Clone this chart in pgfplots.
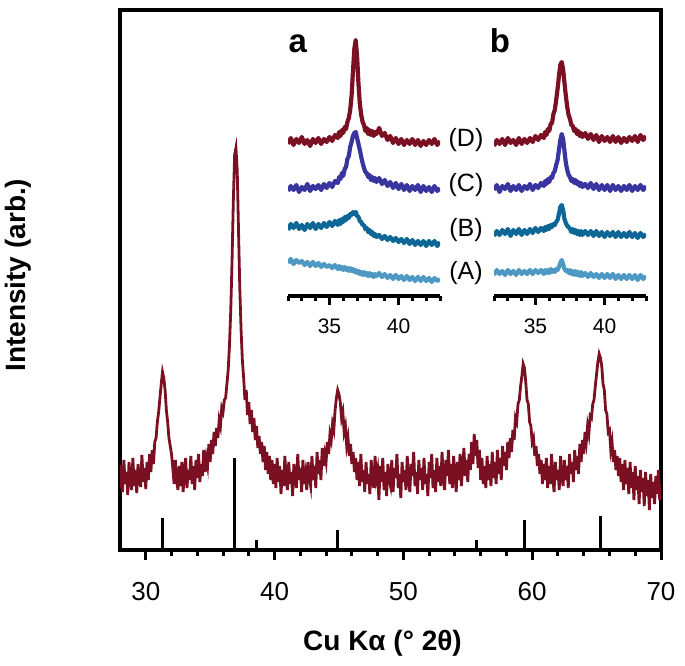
\documentclass[border=0pt]{standalone}
\usepackage{pgfplots}
\pgfplotsset{compat=1.18}
\usepackage{pgfplotstable}
\usepackage{fontspec}
\setmainfont{Liberation Sans}

\definecolor{cD}{RGB}{122,16,34}
\definecolor{cC}{RGB}{56,52,160}
\definecolor{cB}{RGB}{12,102,150}
\definecolor{cA}{RGB}{78,152,196}

% insets: x, then (D) (C) (B) (A) of panel a, then of panel b
\pgfplotstableread{
x    Da  Ca  Ba  Aa  Db  Cb  Bb  Ab
32.0 152 105 66 33 150 106 60 21
32.2 158 110 72 37 156 111 65 26
32.4 151 106 68 32 152 104 61 22
32.6 157 111 73 36 157 110 66 25
32.8 153 104 67 33 151 107 62 21
33.0 159 109 71 35 158 112 67 26
33.2 152 106 66 31 153 105 60 22
33.4 156 112 72 34 156 110 66 25
33.6 150 105 68 30 151 106 62 21
33.8 157 110 73 34 158 111 67 26
34.0 153 107 67 30 152 105 61 22
34.2 158 111 72 33 157 110 66 25
34.4 152 106 68 29 153 107 62 22
34.6 157 112 73 32 158 112 67 26
34.8 154 108 69 29 154 106 63 22
35.0 159 113 74 31 160 111 68 26
35.2 155 109 70 28 156 108 64 23
35.4 161 115 75 31 161 113 68 26
35.6 158 113 71 27 158 110 65 22
35.7 164 119 76 30 164 115 69 26
35.8 160 117 72 27 161 112 66 23
35.9 166 123 77 29 167 117 70 26
36.0 163 120 74 26 165 114 67 23
36.1 169 127 79 29 172 119 71 27
36.2 167 129 76 26 173 118 69 24
36.3 174 137 80 28 182 123 72 26
36.4 178 140 78 25 186 125 71 24
36.5 186 149 82 28 196 131 74 27
36.6 200 154 81 25 207 136 76 26
36.7 224 160 84 27 220 146 82 29
36.8 247 163 82 24 231 156 89 33
36.9 256 164 84 26 234 162 91 36
37.0 240 158 80 23 227 157 86 32
37.1 212 152 79 25 213 145 77 27
37.2 192 146 75 22 200 133 73 25
37.3 181 139 74 24 189 126 70 26
37.4 174 133 71 21 181 121 69 23
37.5 171 128 71 24 177 119 67 26
37.6 165 124 67 21 171 115 64 22
37.7 168 123 68 23 170 117 67 25
37.8 162 119 64 20 165 113 63 21
37.9 166 121 66 23 167 116 66 25
38.0 161 116 62 20 162 112 62 21
38.1 165 119 64 22 165 114 65 24
38.2 160 115 60 19 160 110 61 20
38.3 164 118 62 22 163 113 65 24
38.4 162 114 59 20 159 109 61 20
38.6 168 118 61 23 163 112 65 23
38.8 160 112 57 19 157 108 61 19
39.0 163 116 60 22 162 113 65 23
39.2 156 110 56 18 156 107 60 19
39.4 160 114 59 21 161 112 65 22
39.6 153 108 55 17 154 106 60 18
39.8 158 113 58 21 160 111 64 22
40.0 152 107 54 17 155 106 59 18
40.2 157 112 57 20 159 111 64 22
40.4 151 106 53 16 154 105 60 18
40.6 156 111 57 20 160 111 64 22
40.8 152 105 52 16 154 106 59 17
41.0 157 110 56 19 159 110 64 21
41.2 151 106 51 15 153 105 59 17
41.4 156 111 55 19 158 110 63 21
41.6 150 104 51 15 154 106 59 17
41.8 155 110 55 19 159 111 64 21
42.0 151 105 50 15 155 105 59 17
42.2 156 109 55 18 160 110 63 21
42.4 152 104 51 14 154 106 58 16
42.6 157 110 55 18 161 111 63 21
42.8 151 105 50 15 156 106 59 17
43.0 155 108 54 17 160 110 62 20
}\insets

\pgfplotsset{
  inset/.style={
    scale only axis, width=152pt, height=270pt,
    xmin=32, xmax=43, ymin=0, ymax=270,
    axis x line=bottom, axis y line=none,
    x axis line style={-, line width=3.4pt},
    xtick={35,40}, minor xtick={32,33,34,36,37,38,39,41,42,43},
    tick align=outside, tick style={black, line width=3pt},
    major tick length=9pt, minor tick length=5pt,
    xticklabel style={font=\fontsize{21}{21}\selectfont, yshift=-10pt},
    /pgf/number format/assume math mode=true,
    every axis plot/.append style={line width=4.2pt, no marks, line join=round},
  },
}

\begin{document}
\begin{tikzpicture}
\useasboundingbox (-120pt,-116pt) rectangle (565pt,550pt);
\begin{axis}[
  at={(0pt,0pt)}, anchor=south west,
  scale only axis, width=541pt, height=540pt,
  xmin=28, xmax=70, ymin=0, ymax=540,
  axis line style={line width=3.8pt},
  ytick=\empty,
  xtick={30,40,...,70}, minor x tick num=4,
  xtick pos=bottom, tick align=outside,
  tick style={black, line width=3pt},
  major tick length=10pt, minor tick length=6pt,
  xticklabel style={font=\fontsize{26}{26}\selectfont, yshift=-19pt},
  /pgf/number format/assume math mode=true,
  xlabel={\textbf{Cu Kα (° 2θ)}},
  xlabel style={font=\fontsize{28}{28}\selectfont, at={(axis description cs:0.5,0)}, anchor=center, yshift=-93pt, xshift=-8pt},
  ylabel={\textbf{Intensity (arb.)}},
  ylabel style={font=\fontsize{28}{28}\selectfont, at={(axis description cs:-0.1885,0.509)}, anchor=center},
]
\addplot[ycomb, black, line width=3pt, no marks] coordinates {
(31.3,32) (36.9,92) (38.6,10) (44.9,20) (55.7,10) (59.4,30) (65.3,34)};

\addplot[cD, line width=2.8pt, no marks] table {
28.0 62
28.1 85
28.2 58
28.3 90
28.4 66
28.5 78
28.6 55
28.7 88
28.8 70
28.9 60
29.0 92
29.1 64
29.2 80
29.3 57
29.4 86
29.5 72
29.6 63
29.7 95
29.8 68
29.9 82
30.0 61
30.1 88
30.2 70
30.3 96
30.4 78
30.5 100
30.6 86
30.7 108
30.8 112
30.9 128
31.0 138
31.1 152
31.2 166
31.3 178
31.4 172
31.5 160
31.6 140
31.7 128
31.8 112
31.9 104
32.0 96
32.1 82
32.2 66
32.3 90
32.4 70
32.5 60
32.6 84
32.7 64
32.8 88
32.9 58
33.0 78
33.1 92
33.2 62
33.3 80
33.4 70
33.5 94
33.6 66
33.7 84
33.8 60
33.9 90
34.0 72
34.1 96
34.2 68
34.3 86
34.4 74
34.5 100
34.6 78
34.7 92
34.8 84
34.9 106
35.0 88
35.1 110
35.2 96
35.3 118
35.4 104
35.5 122
35.6 112
35.7 130
35.8 124
35.9 142
36.0 138
36.1 150
36.2 152
36.3 166
36.4 180
36.5 205
36.6 240
36.7 290
36.8 350
36.9 395
37.0 402
37.1 380
37.2 320
37.3 262
37.4 220
37.5 190
37.6 172
37.7 150
37.8 160
37.9 135
38.0 148
38.1 126
38.2 140
38.3 118
38.4 132
38.5 110
38.6 124
38.7 102
38.8 114
38.9 96
39.0 108
39.1 88
39.2 104
39.3 80
39.4 98
39.5 76
39.6 94
39.7 70
39.8 90
39.9 66
40.0 86
40.1 62
40.2 92
40.3 68
40.4 84
40.5 56
40.6 80
40.7 64
40.8 94
40.9 70
41.0 60
41.1 88
41.2 66
41.3 78
41.4 54
41.5 86
41.6 72
41.7 62
41.8 96
41.9 70
42.0 82
42.1 58
42.2 90
42.3 66
42.4 76
42.5 60
42.6 88
42.7 72
42.8 64
42.9 94
43.0 70
43.1 84
43.2 62
43.3 98
43.4 76
43.5 90
43.6 70
43.7 102
43.8 84
43.9 96
44.0 88
44.1 108
44.2 96
44.3 116
44.4 110
44.5 126
44.6 120
44.7 140
44.8 152
44.9 160
45.0 156
45.1 148
45.2 132
45.3 138
45.4 118
45.5 124
45.6 104
45.7 112
45.8 94
45.9 106
46.0 86
46.1 98
46.2 78
46.3 92
46.4 70
46.5 88
46.6 64
46.7 96
46.8 68
46.9 80
47.0 58
47.1 88
47.2 66
47.3 76
47.4 56
47.5 90
47.6 70
47.7 62
47.8 94
47.9 72
48.0 80
48.1 50
48.2 84
48.3 68
48.4 92
48.5 60
48.6 78
48.7 54
48.8 86
48.9 70
49.0 64
49.1 90
49.2 58
49.3 82
49.4 72
49.5 96
49.6 62
49.7 76
49.8 52
49.9 88
50.0 68
50.1 80
50.2 60
50.3 94
50.4 70
50.5 58
50.6 86
50.7 74
50.8 98
50.9 64
51.0 78
51.1 56
51.2 90
51.3 70
51.4 82
51.5 60
51.6 92
51.7 66
51.8 76
51.9 54
52.0 88
52.1 72
52.2 96
52.3 62
52.4 80
52.5 58
52.6 92
52.7 68
52.8 84
52.9 64
53.0 98
53.1 72
53.2 60
53.3 90
53.4 74
53.5 100
53.6 66
53.7 86
53.8 62
53.9 94
54.0 76
54.1 58
54.2 88
54.3 70
54.4 96
54.5 64
54.6 82
54.7 102
54.8 74
54.9 90
55.0 68
55.1 96
55.2 80
55.3 108
55.4 86
55.5 116
55.6 94
55.7 110
55.8 82
55.9 100
56.0 70
56.1 92
56.2 66
56.3 84
56.4 62
56.5 94
56.6 70
56.7 86
56.8 64
56.9 98
57.0 72
57.1 88
57.2 66
57.3 100
57.4 76
57.5 92
57.6 70
57.7 104
57.8 84
57.9 98
58.0 80
58.1 108
58.2 92
58.3 112
58.4 98
58.5 120
58.6 110
58.7 132
58.8 128
58.9 146
59.0 150
59.1 164
59.2 174
59.3 186
59.4 182
59.5 168
59.6 150
59.7 146
59.8 128
59.9 124
60.0 108
60.1 112
60.2 94
60.3 104
60.4 84
60.5 96
60.6 76
60.7 90
60.8 66
60.9 86
61.0 70
61.1 92
61.2 62
61.3 84
61.4 66
61.5 96
61.6 72
61.7 58
61.8 88
61.9 70
62.0 80
62.1 60
62.2 94
62.3 74
62.4 64
62.5 90
62.6 70
62.7 84
62.8 62
62.9 96
63.0 76
63.1 88
63.2 68
63.3 100
63.4 80
63.5 94
63.6 76
63.7 106
63.8 88
63.9 110
64.0 96
64.1 118
64.2 108
64.3 124
64.4 116
64.5 134
64.6 132
64.7 146
64.8 150
64.9 164
65.0 176
65.1 188
65.2 196
65.3 192
65.4 184
65.5 166
65.6 160
65.7 140
65.8 136
65.9 118
66.0 120
66.1 100
66.2 108
66.3 88
66.4 100
66.5 80
66.6 94
66.7 74
66.8 92
66.9 68
67.0 86
67.1 60
67.2 90
67.3 66
67.4 82
67.5 56
67.6 88
67.7 62
67.8 78
67.9 50
68.0 84
68.1 60
68.2 74
68.3 46
68.4 80
68.5 58
68.6 72
68.7 44
68.8 78
68.9 54
69.0 70
69.1 40
69.2 76
69.3 52
69.4 68
69.5 46
69.6 74
69.7 56
69.8 80
69.9 50
70.0 66
};

\node[font=\fontsize{33}{33}\selectfont\bfseries, anchor=base] at (axis cs:41.8,497) {a};
\node[font=\fontsize{33}{33}\selectfont\bfseries, anchor=base] at (axis cs:57.5,497) {b};
\node[font=\fontsize{25}{25}\selectfont] at (axis cs:54.86,410) {(D)};
\node[font=\fontsize{25}{25}\selectfont] at (axis cs:54.86,365) {(C)};
\node[font=\fontsize{25}{25}\selectfont] at (axis cs:54.86,320) {(B)};
\node[font=\fontsize{25}{25}\selectfont] at (axis cs:54.86,277) {(A)};
\end{axis}

\begin{axis}[inset, at={(168pt,254pt)}, anchor=south west]
\addplot[cA] table[x=x, y=Aa] {\insets};
\addplot[cB] table[x=x, y=Ba] {\insets};
\addplot[cC] table[x=x, y=Ca] {\insets};
\addplot[cD] table[x=x, y=Da] {\insets};
\end{axis}

\begin{axis}[inset, at={(374pt,254pt)}, anchor=south west]
\addplot[cA] table[x=x, y=Ab] {\insets};
\addplot[cB] table[x=x, y=Bb] {\insets};
\addplot[cC] table[x=x, y=Cb] {\insets};
\addplot[cD] table[x=x, y=Db] {\insets};
\end{axis}
\end{tikzpicture}
\end{document}
